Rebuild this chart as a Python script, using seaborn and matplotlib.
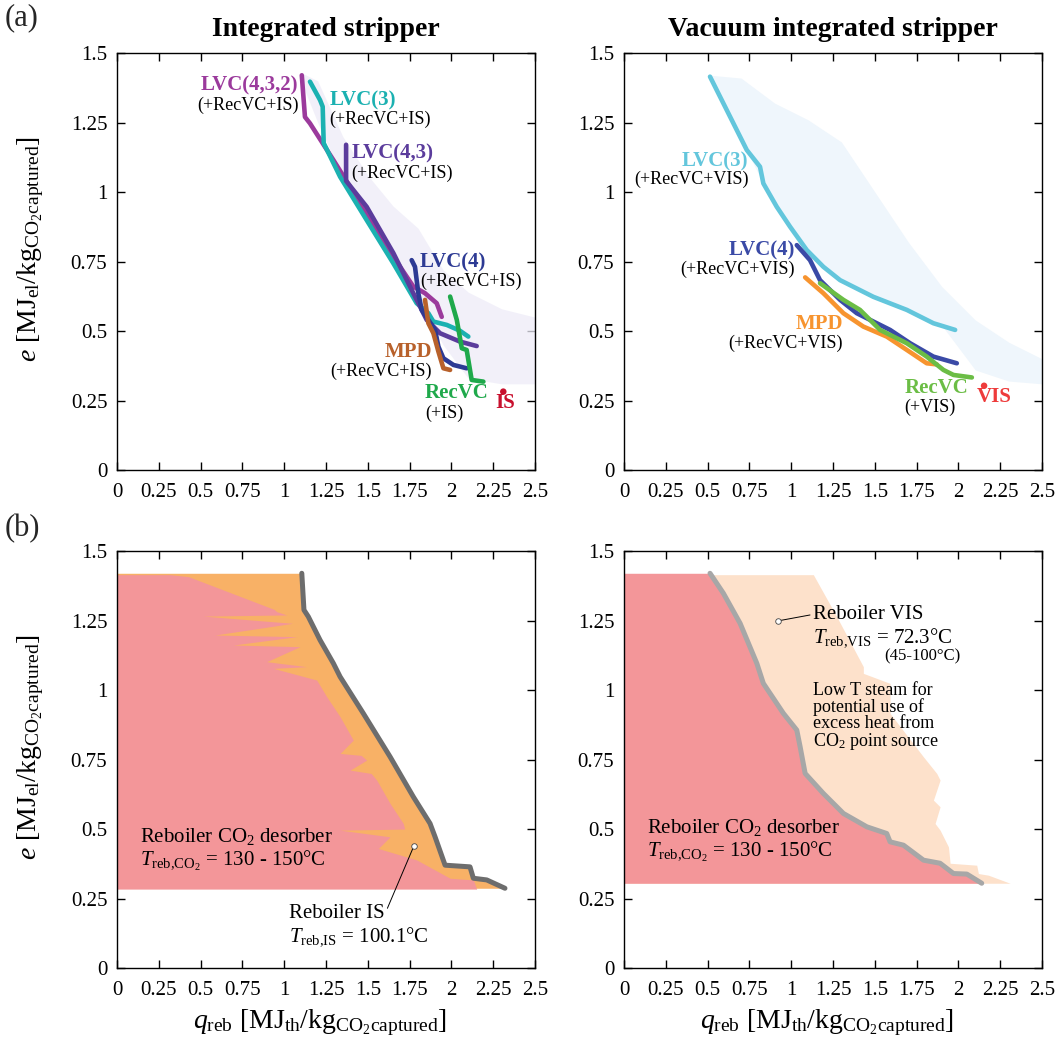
import numpy as np
import pandas as pd
import matplotlib
matplotlib.use('Agg')
import matplotlib.pyplot as plt
import seaborn as sns
from matplotlib.ticker import FuncFormatter, MultipleLocator

sns.set_theme(style='ticks')
plt.rcParams['font.family'] = ['Liberation Serif', 'DejaVu Serif']
plt.rcParams['mathtext.fontset'] = 'custom'
plt.rcParams['mathtext.rm'] = 'Liberation Serif'
plt.rcParams['mathtext.it'] = 'Liberation Serif:italic'
plt.rcParams['mathtext.bf'] = 'Liberation Serif:bold'

# ---- (a) integrated stripper: Pareto fronts ----
is_lvc432_q = [1.105, 1.124, 1.154, 1.294, 1.493, 1.653, 1.772, 1.842, 1.912, 1.942]
is_lvc432_e = [1.42, 1.27, 1.247, 1.115, 0.923, 0.767, 0.66, 0.636, 0.60, 0.551]
is_lvc3_q = [1.154, 1.214, 1.230, 1.236, 1.334, 1.493, 1.653, 1.792, 1.862, 1.892, 1.972, 2.051, 2.101]
is_lvc3_e = [1.397, 1.331, 1.307, 1.176, 1.055, 0.899, 0.743, 0.60, 0.564, 0.534, 0.522, 0.501, 0.48]
is_lvc43_q = [1.37, 1.37, 1.493, 1.653, 1.792, 1.852, 1.932, 2.051, 2.151]
is_lvc43_e = [1.17, 1.04, 0.947, 0.78, 0.612, 0.54, 0.492, 0.462, 0.446]
is_lvc4_q = [1.762, 1.782, 1.802, 1.822, 1.902, 1.922, 1.952, 2.012, 2.091]
is_lvc4_e = [0.755, 0.731, 0.636, 0.576, 0.504, 0.444, 0.402, 0.378, 0.366]
is_mpd_q = [1.842, 1.862, 1.892, 1.922, 1.952, 1.992]
is_mpd_e = [0.612, 0.528, 0.492, 0.426, 0.366, 0.36]
is_recvc_q = [1.992, 2.032, 2.062, 2.091, 2.121, 2.191]
is_recvc_e = [0.624, 0.54, 0.438, 0.432, 0.324, 0.318]
is_point = (2.31, 0.282)

# faint cloud of all simulated points (integrated stripper)
is_cloud_q = [1.10, 1.20, 1.35, 1.50, 1.65, 1.80, 1.95, 2.10, 2.30, 2.50]
is_cloud_lo = [1.40, 1.25, 1.05, 0.91, 0.77, 0.62, 0.45, 0.33, 0.31, 0.31]
is_cloud_hi = [1.43, 1.40, 1.20, 1.06, 0.95, 0.87, 0.72, 0.64, 0.58, 0.55]

# ---- (a) vacuum integrated stripper ----
vis_lvc3_q = [0.514, 0.634, 0.734, 0.813, 0.833, 0.913, 0.993, 1.093, 1.192, 1.292, 1.491, 1.691, 1.85, 1.98]
vis_lvc3_e = [1.415, 1.271, 1.151, 1.091, 1.031, 0.947, 0.875, 0.791, 0.731, 0.683, 0.623, 0.576, 0.528, 0.504]
vis_lvc4_q = [1.033, 1.112, 1.172, 1.292, 1.392, 1.591, 1.711, 1.85, 1.99]
vis_lvc4_e = [0.809, 0.755, 0.683, 0.612, 0.564, 0.504, 0.456, 0.408, 0.384]
vis_mpd_q = [1.083, 1.192, 1.312, 1.431, 1.571, 1.691, 1.81, 1.87]
vis_mpd_e = [0.693, 0.636, 0.564, 0.516, 0.48, 0.432, 0.384, 0.38]
vis_recvc_q = [1.172, 1.312, 1.411, 1.531, 1.691, 1.81, 1.91, 1.97, 2.08]
vis_recvc_e = [0.672, 0.612, 0.576, 0.504, 0.456, 0.408, 0.36, 0.342, 0.333]
vis_point = (2.153, 0.303)

vis_cloud_q = [0.52, 0.70, 0.90, 1.10, 1.30, 1.50, 1.70, 1.90, 2.10, 2.30, 2.50]
vis_cloud_lo = [1.41, 1.19, 0.95, 0.79, 0.68, 0.62, 0.575, 0.52, 0.36, 0.32, 0.31]
vis_cloud_hi = [1.42, 1.41, 1.32, 1.26, 1.18, 1.00, 0.82, 0.66, 0.54, 0.46, 0.40]

# ---- (b) integrated stripper: heat split ----
b_is_front_q = [1.105, 1.118, 1.144, 1.214, 1.294, 1.334, 1.473, 1.633, 1.772, 1.872, 1.902, 1.962, 2.111, 2.131, 2.211, 2.32]
b_is_front_e = [1.42, 1.288, 1.264, 1.18, 1.096, 1.048, 0.916, 0.76, 0.616, 0.52, 0.472, 0.37, 0.364, 0.323, 0.317, 0.287]
b_is_co2_e = [1.415, 1.408, 1.29, 1.282, 1.27, 1.266, 1.24, 1.198, 1.192, 1.162, 1.156, 1.102, 1.084, 1.078,
              1.036, 0.976, 0.904, 0.82, 0.772, 0.765, 0.748, 0.712, 0.70, 0.676, 0.592, 0.52, 0.50, 0.496,
              0.472, 0.43, 0.389, 0.323, 0.317, 0.284]
b_is_co2_q = [0.317, 0.427, 0.94, 0.955, 1.015, 0.516, 1.05, 0.586, 1.075, 0.696, 1.094, 0.895, 1.134, 0.935,
              1.194, 1.254, 1.334, 1.413, 1.334, 1.46, 1.493, 1.394, 1.52, 1.553, 1.633, 1.712, 1.72, 1.334,
              1.633, 1.563, 1.792, 1.992, 2.131, 2.151]

# ---- (b) vacuum integrated stripper ----
b_vis_front_q = [0.514, 0.594, 0.694, 0.794, 0.833, 0.953, 1.033, 1.053, 1.083, 1.192, 1.312, 1.452, 1.571,
                 1.591, 1.671, 1.791, 1.89, 1.97, 2.05, 2.139]
b_vis_front_e = [1.42, 1.348, 1.24, 1.096, 1.024, 0.916, 0.856, 0.796, 0.70, 0.628, 0.556, 0.508, 0.484,
                 0.454, 0.442, 0.388, 0.377, 0.34, 0.338, 0.305]
b_vis_low_e = [1.415, 1.264, 1.084, 1.06, 1.024, 0.916, 0.76, 0.70, 0.676, 0.604, 0.58, 0.52, 0.496, 0.436,
               0.377, 0.37, 0.34, 0.334, 0.305]
b_vis_low_q = [1.132, 1.272, 1.431, 1.431, 1.591, 1.591, 1.79, 1.87, 1.89, 1.85, 1.89, 1.86, 1.89, 1.94,
               1.95, 2.109, 2.119, 2.179, 2.309]

ylab = r'$e$ [MJ$_{\rm el}$/kg$_{\rm CO_2captured}$]'
xlab = r'$q_{\rm reb}$ [MJ$_{\rm th}$/kg$_{\rm CO_2captured}$]'


def style_axes(ax):
    ax.set_xlim(0, 2.5)
    ax.set_ylim(0, 1.5)
    ax.xaxis.set_major_locator(MultipleLocator(0.25))
    ax.yaxis.set_major_locator(MultipleLocator(0.25))
    fmt = FuncFormatter(lambda v, p: f'{v:g}')
    ax.xaxis.set_major_formatter(fmt)
    ax.yaxis.set_major_formatter(fmt)
    ax.tick_params(direction='in', top=True, right=True, length=6, width=1,
                   labelsize=15, color='black', labelcolor='black')
    ax.tick_params(axis='x', pad=9)
    ax.tick_params(axis='y', pad=7)
    for s in ax.spines.values():
        s.set_color('black')
        s.set_linewidth(1)
    ax.set_facecolor('white')


def front(ax, q, e, color, lw=3.3):
    sns.lineplot(x=q, y=e, estimator=None, sort=False, color=color, lw=lw, ax=ax)


def label(ax, q, e, name, color, ha):
    ax.text(q, e, name, color=color, fontsize=15, fontweight='bold', ha=ha, va='center')


def note(ax, q, e, txt, ha, size=13):
    ax.text(q, e, txt, color='black', fontsize=size, ha=ha, va='center')


fig = plt.figure(figsize=(10.57, 10.52), dpi=100)
W, H = 0.3955, 0.3964
ax1 = fig.add_axes([0.1107, 0.5532, W, H])
ax2 = fig.add_axes([0.5904, 0.5532, W, H])
ax3 = fig.add_axes([0.1107, 0.0798, W, H])
ax4 = fig.add_axes([0.5904, 0.0798, W, H])

# --- panel a, left ---
ax1.fill_between(is_cloud_q, is_cloud_lo, is_cloud_hi, color='#eeecf8', alpha=0.75, lw=0)
front(ax1, is_lvc432_q, is_lvc432_e, '#9b3a9c')
front(ax1, is_lvc3_q, is_lvc3_e, '#1bb1b1')
front(ax1, is_lvc43_q, is_lvc43_e, '#5b3c9c')
front(ax1, is_lvc4_q, is_lvc4_e, '#2d3a94')
front(ax1, is_mpd_q, is_mpd_e, '#b8612b')
front(ax1, is_recvc_q, is_recvc_e, '#1fa94b')
sns.scatterplot(x=[is_point[0]], y=[is_point[1]], color='#c8102e', s=22, ax=ax1, edgecolor='none')

label(ax1, 1.085, 1.385, 'LVC(4,3,2)', '#9b3a9c', 'right')
note(ax1, 1.085, 1.313, '(+RecVC+IS)', 'right')
label(ax1, 1.27, 1.33, 'LVC(3)', '#1bb1b1', 'left')
note(ax1, 1.27, 1.263, '(+RecVC+IS)', 'left')
label(ax1, 1.404, 1.137, 'LVC(4,3)', '#5b3c9c', 'left')
note(ax1, 1.40, 1.067, '(+RecVC+IS)', 'left')
label(ax1, 1.812, 0.746, 'LVC(4)', '#2d3a94', 'left')
note(ax1, 1.812, 0.677, '(+RecVC+IS)', 'left')
label(ax1, 1.882, 0.426, 'MPD', '#b8612b', 'right')
note(ax1, 1.885, 0.354, '(+RecVC+IS)', 'right')
label(ax1, 1.842, 0.276, 'RecVC', '#1fa94b', 'left')
note(ax1, 1.842, 0.204, '(+IS)', 'left')
label(ax1, 2.26, 0.242, 'IS', '#c8102e', 'left')

# --- panel a, right ---
ax2.fill_between(vis_cloud_q, vis_cloud_lo, vis_cloud_hi, color='#eaf3fb', alpha=0.75, lw=0)
front(ax2, vis_lvc3_q, vis_lvc3_e, '#63c6dc')
front(ax2, vis_lvc4_q, vis_lvc4_e, '#3a4aa6')
front(ax2, vis_mpd_q, vis_mpd_e, '#f7942f')
front(ax2, vis_recvc_q, vis_recvc_e, '#6bbd45')
sns.scatterplot(x=[vis_point[0]], y=[vis_point[1]], color='#ee3b3b', s=22, ax=ax2, edgecolor='none')

label(ax2, 0.744, 1.109, 'LVC(3)', '#63c6dc', 'right')
note(ax2, 0.744, 1.046, '(+RecVC+VIS)', 'right')
label(ax2, 1.023, 0.789, 'LVC(4)', '#3a4aa6', 'right')
note(ax2, 1.023, 0.722, '(+RecVC+VIS)', 'right')
label(ax2, 1.308, 0.525, 'MPD', '#f7942f', 'right')
note(ax2, 1.308, 0.456, '(+RecVC+VIS)', 'right')
label(ax2, 1.675, 0.294, 'RecVC', '#6bbd45', 'left')
note(ax2, 1.675, 0.226, '(+VIS)', 'left')
label(ax2, 2.109, 0.261, 'VIS', '#ee3b3b', 'left')

# --- panel b, left ---
ax3.fill_betweenx(b_is_front_e, 0, b_is_front_q, color='#f8b166', lw=0)
ax3.fill_betweenx(b_is_co2_e, 0, b_is_co2_q, color='#f39699', lw=0)
front(ax3, b_is_front_q, b_is_front_e, '#6d6d6d', lw=3.6)
ax3.plot([1.617, 1.776], [0.215, 0.44], color='black', lw=0.7)
ax3.plot([1.776], [0.44], 'o', ms=4, mfc='white', mec='#444444', mew=0.6)
note(ax3, 0.138, 0.472, r'Reboiler CO$_2$ desorber', 'left', 15)
note(ax3, 0.138, 0.388, r'$T_{\rm reb{,}CO_2}$ = 130 - 150°C', 'left', 15)
note(ax3, 1.031, 0.197, 'Reboiler IS', 'left', 15)
note(ax3, 1.031, 0.113, r'$T_{\rm reb{,}IS}$ = 100.1°C', 'left', 15)

# --- panel b, right ---
ax4.fill_betweenx(b_vis_low_e, 0, b_vis_low_q, color='#fde1cb', lw=0)
ax4.fill_betweenx(b_vis_front_e, 0, b_vis_front_q, color='#f39699', lw=0)
front(ax4, b_vis_front_q, b_vis_front_e, '#a7a7a7', lw=3.6)
ax4.plot([0.923, 1.112], [1.249, 1.27], color='black', lw=0.7)
ax4.plot([0.923], [1.249], 'o', ms=4, mfc='white', mec='#444444', mew=0.6)
note(ax4, 1.128, 1.273, 'Reboiler VIS', 'left', 15)
note(ax4, 1.128, 1.19, r'$T_{\rm reb{,}VIS}$ = 72.3°C', 'left', 15)
note(ax4, 1.555, 1.12, '(45-100°C)', 'left', 12)
ax4.text(1.128, 1.03, 'Low T steam for\npotential use of\nexcess heat from\nCO$_2$ point source',
         fontsize=13, ha='left', va='top', linespacing=0.95, color='black')
note(ax4, 0.138, 0.505, r'Reboiler CO$_2$ desorber', 'left', 15)
note(ax4, 0.138, 0.42, r'$T_{\rm reb{,}CO_2}$ = 130 - 150°C', 'left', 15)

for ax in (ax1, ax2, ax3, ax4):
    style_axes(ax)
    ax.set_xlabel('')
    ax.set_ylabel('')

for ax in (ax1, ax3):
    ax.set_ylabel(ylab, fontsize=20, color='black')
    ax.yaxis.set_label_coords(-0.17, 0.53)
for ax in (ax3, ax4):
    ax.set_xlabel(xlab, fontsize=20, color='black')
    ax.xaxis.set_label_coords(0.486, -0.095)

ax1.set_title('Integrated stripper', fontsize=20, fontweight='bold', pad=12, color='black')
ax2.set_title('Vacuum integrated stripper', fontsize=20, fontweight='bold', pad=12, color='black')
fig.text(0.004, 0.983, '(a)', fontsize=22, va='center', ha='left')
fig.text(0.004, 0.498, '(b)', fontsize=22, va='center', ha='left')

fig.savefig('out.png', dpi=100)
